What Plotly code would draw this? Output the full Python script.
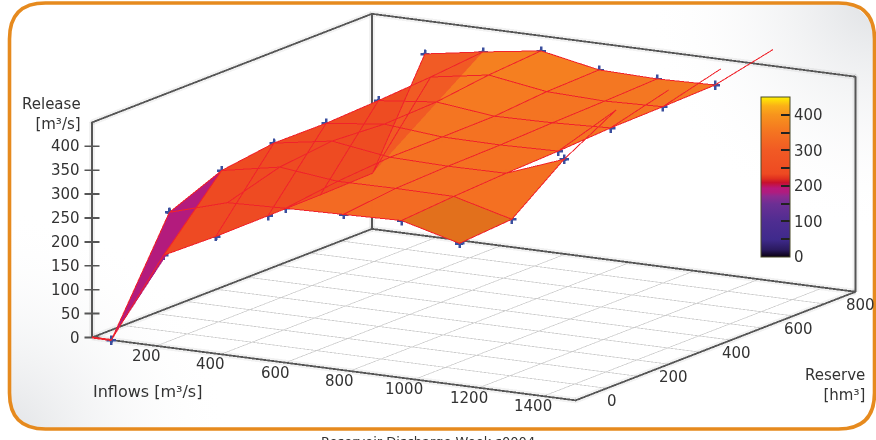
import base64
import plotly.graph_objects as go

# ---- data ----
inflows = [60, 240, 420, 600, 780, 960, 1140]
reserve = [0, 168, 336, 504, 672, 840, 1008]
# release[j][i]: j = reserve index, i = inflow index
release = [
    [0, 283, 319, 323, 326, 329, 297],
    [135, 328, 351, 337, 338, 337, 305],
    [132, 343, 363, 345, 342, 343, 388],
    [133, 342, 356, 345, 344, 347, 449],
    [134, 347, 360, 346, 348, 353, 448],
    [137, 354, 374, 355, 351, 355, 450],
    [344, 364, 382, 358, 355, 358, 448],
]
x_ticks = [200, 400, 600, 800, 1000, 1200, 1400]
y_ticks = [0, 200, 400, 600, 800]
y_grid = [100, 200, 300, 400, 500, 600, 700, 800]
z_ticks = [0, 50, 100, 150, 200, 250, 300, 350, 400]
cb_ticks = [0, 50, 100, 150, 200, 250, 300, 350, 400]
cb_labels = ["0", "", "100", "", "200", "", "300", "", "400"]
x_max, y_max, z_max = 1500, 900, 450
x_low, x_high, y_low, y_high, z_low, z_high = -30, 1510, -10, 1020, -5, 455
title_x = "Inflows [m³/s]"
title_y = "Reserve<br>[hm³]"
title_z = "Release<br>[m³/s]"
caption = "Reservoir Discharge Week s0004"

colorscale = [
    [0.0, "#0a0010"], [0.045, "#2a1a5e"], [0.11, "#3f2a8c"], [0.22, "#4e2d91"],
    [0.33, "#6b2f94"], [0.38, "#8e2a90"], [0.405, "#b01c7e"], [0.43, "#b7187c"], [0.465, "#c8102e"],
    [0.49, "#e0301f"], [0.52, "#ee4a22"], [0.667, "#f15a24"], [0.778, "#f47321"],
    [0.889, "#f7941d"], [0.945, "#fbb117"], [1.0, "#fff200"],
]

FONT = "DejaVu Sans"
TXT = "#333333"
FRAME = "#555555"
GRID = "#cccccc"
RED = "#f0222a"
TR = 0.995   # everything in the transparent pass, so trace order is paint order

fig = go.Figure()

# frame path (also used for its soft shadow)
fx = [0, x_max, x_max, 0, 0, None, 0, 0, 0, 0, None, 0, x_max, x_max]
fy = [0, 0, y_max, y_max, 0, None, 0, 0, y_max, y_max, None, y_max, y_max, y_max]
fz = [0, 0, 0, 0, 0, None, 0, z_max, z_max, 0, None, z_max, z_max, 0]
fig.add_trace(go.Scatter3d(x=fx, y=fy, z=fz, mode="lines", opacity=0.05,
                           line=dict(color="#000000", width=12), hoverinfo="skip", showlegend=False))

# floor grid
gx, gy, gz = [], [], []
for t in x_ticks:
    gx += [t, t, None]; gy += [0, y_max, None]; gz += [0, 0, None]
for t in y_grid:
    gx += [0, x_max, None]; gy += [t, t, None]; gz += [0, 0, None]
fig.add_trace(go.Scatter3d(x=gx, y=gy, z=gz, mode="lines", opacity=TR,
                           line=dict(color=GRID, width=1.5), hoverinfo="skip", showlegend=False))

# frame and the tick marks straddling the release edge
tx, ty, tz = list(fx), list(fy), list(fz)
for t in z_ticks:
    tx += [None, -17, 17]; ty += [None, -6, 6]; tz += [None, t, t]
fig.add_trace(go.Scatter3d(x=tx, y=ty, z=tz, mode="lines", opacity=TR,
                           line=dict(color=FRAME, width=3.6), hoverinfo="skip", showlegend=False))

# markers (behind the sheet, as in the picture)
mx, my, mz = [], [], []
for j, yv in enumerate(reserve):
    for i, xv in enumerate(inflows):
        if i == 6 and j > 2:
            continue
        mx.append(xv); my.append(yv); mz.append(release[j][i])
fig.add_trace(go.Scatter3d(x=mx, y=my, z=mz, mode="text", opacity=TR, text=["✚"] * len(mx),
                           textposition="middle center",
                           textfont=dict(family=FONT, size=13, color="#3a4e9e"),
                           hoverinfo="skip", showlegend=False))

# sheet: painted from high inflow to low inflow, one flat colour per cell
vx, vy, vz = [], [], []
for j, yv in enumerate(reserve):
    for i, xv in enumerate(inflows):
        vx.append(xv); vy.append(yv); vz.append(release[j][i])
n = len(inflows)
ti, tj, tk, tint = [], [], [], []
a, b, c, d = n+5, n+6, 2*n+6, 2*n+5
avg = (vz[a] + vz[b] + vz[c] + vz[d]) / 4
ti += [a, a]; tj += [b, c]; tk += [c, d]; tint += [avg, avg]
for i in range(4, -1, -1):
    for j in range(6):
        a, b, c, d = j*n+i, j*n+i+1, (j+1)*n+i+1, (j+1)*n+i
        avg = (vz[a] + vz[b] + vz[c] + vz[d]) / 4
        ti += [a, a]; tj += [b, c]; tk += [c, d]; tint += [avg, avg]
lighting = dict(ambient=1, diffuse=0, specular=0, fresnel=0, roughness=1)
fig.add_trace(go.Mesh3d(x=vx, y=vy, z=vz, i=ti, j=tj, k=tk, intensity=tint, intensitymode="cell",
                        colorscale=colorscale, cmin=0, cmax=z_max, opacity=TR, flatshading=True,
                        lighting=lighting, hoverinfo="skip",
                        colorbar=dict(
                            thickness=29, thicknessmode="pixels", len=160, lenmode="pixels",
                            x=761/876, xanchor="left", xpad=0, y=(440-177)/440, yanchor="middle", ypad=0,
                            outlinecolor="#4a4a2a", outlinewidth=1, borderwidth=0,
                            tickmode="array", tickvals=cb_ticks, ticktext=cb_labels,
                            ticks="inside", ticklen=9, tickwidth=2, tickcolor="#222222",
                            tickfont=dict(family=FONT, size=15, color=TXT))))
a, b, c, d = 5, 6, n+6, n+5
fig.add_trace(go.Mesh3d(x=vx, y=vy, z=vz, i=[a, a], j=[b, c], k=[c, d], color="#e2701b",
                        opacity=TR, flatshading=True, lighting=lighting, hoverinfo="skip", showscale=False))

# wire lines
lx, ly, lz = [], [], []
for j, yv in enumerate(reserve):
    for i, xv in enumerate(inflows):
        lx.append(xv); ly.append(yv); lz.append(release[j][i])
    lx.append(None); ly.append(None); lz.append(None)
for i, xv in enumerate(inflows):
    last = 3 if i == 6 else 6
    for j in range(last + 1):
        lx.append(xv); ly.append(reserve[j]); lz.append(release[j][i])
    lx.append(None); ly.append(None); lz.append(None)
fig.add_trace(go.Scatter3d(x=lx, y=ly, z=lz, mode="lines", opacity=TR,
                           line=dict(color=RED, width=2), hoverinfo="skip", showlegend=False))
fig.add_trace(go.Scatter3d(x=[0, inflows[0]], y=[0, reserve[0]], z=[0, release[0][0]], mode="lines", opacity=TR,
                           line=dict(color=RED, width=4), hoverinfo="skip", showlegend=False))

axis_common = dict(showgrid=False, zeroline=False, showline=False, showbackground=False,
                   showspikes=False, title=dict(text=""), ticks="", showticklabels=False)

# page: soft grey glow in two corners
svg = ('<svg xmlns="http://www.w3.org/2000/svg" width="876" height="440"><defs>'
       '<radialGradient id="a" gradientUnits="userSpaceOnUse" cx="876" cy="0" r="230">'
       '<stop offset="0" stop-color="#dfe1e4"/><stop offset="1" stop-color="#ffffff" stop-opacity="0"/></radialGradient>'
       '<radialGradient id="b" gradientUnits="userSpaceOnUse" cx="0" cy="440" r="230">'
       '<stop offset="0" stop-color="#dfe1e4"/><stop offset="1" stop-color="#ffffff" stop-opacity="0"/></radialGradient>'
       '<clipPath id="c"><rect x="9" y="3" width="865" height="426" rx="36" ry="36"/></clipPath></defs>'
       '<g clip-path="url(#c)"><rect width="876" height="440" fill="#ffffff"/>'
       '<rect width="876" height="440" fill="url(#a)"/><rect width="876" height="440" fill="url(#b)"/></g></svg>')
uri = "data:image/svg+xml;base64," + base64.b64encode(svg.encode()).decode()

def px(x): return x / 876
def py(y): return 1 - y / 440
L, T, R_, B, r = 9.5, 3, 874.5, 429, 36
border = (f"M {px(L+r)} {py(T)} L {px(R_-r)} {py(T)} Q {px(R_)} {py(T)} {px(R_)} {py(T+r)} "
          f"L {px(R_)} {py(B-r)} Q {px(R_)} {py(B)} {px(R_-r)} {py(B)} "
          f"L {px(L+r)} {py(B)} Q {px(L)} {py(B)} {px(L)} {py(B-r)} "
          f"L {px(L)} {py(T+r)} Q {px(L)} {py(T)} {px(L+r)} {py(T)} Z")

S = 225.0
AR = 2.54
rv = (0.865, 0.501, 0.0)
uv = (-0.1125, 0.194, 0.9745)
sx, sy = -50.8/S, -20.4/S
center = dict(x=sx*rv[0]+sy*uv[0], y=sx*rv[1]+sy*uv[1], z=sx*rv[2]+sy*uv[2])
EYE = 4.0

def note(x, y, text, align, xanchor, yanchor="middle", size=15):
    return dict(xref="paper", yref="paper", x=x/876, y=1-y/440, text=text, showarrow=False,
                align=align, xanchor=xanchor, yanchor=yanchor,
                font=dict(family=FONT, size=size, color=TXT))

def scene_note(x, y, z, text, xanchor, xshift, yshift):
    return dict(x=x, y=y, z=z, text=text, showarrow=False, xanchor=xanchor, yanchor="middle",
                xshift=xshift, yshift=yshift, font=dict(family=FONT, size=15, color=TXT))

tick_notes = ([scene_note(t, 0, 0, str(t), "center", -10, -10) for t in x_ticks]
              + [scene_note(x_max, t, 0, str(t), "center", 36, -1) for t in y_ticks]
              + [scene_note(0, 0, t, str(t), "right", -10, 0) for t in z_ticks])

fig.update_layout(
    width=876, height=440, margin=dict(l=0, r=0, t=0, b=0),
    paper_bgcolor="white", showlegend=False,
    images=[dict(source=uri, xref="paper", yref="paper", x=0, y=1, sizex=1, sizey=1,
                 sizing="stretch", xanchor="left", yanchor="top", layer="below")],
    shapes=[dict(type="path", xref="paper", yref="paper", path=border,
                 line=dict(color="#e68a1e", width=3.6), layer="above")],
    annotations=[
        note(83, 114, title_z, "right", "right"),
        note(91, 391, title_x, "left", "left", size=16),
        note(867, 385, title_y, "right", "right"),
        note(428, 432, caption, "center", "center", "top", size=13),
    ],
    scene=dict(
        domain=dict(x=[0, 1], y=[0, 1]),
        bgcolor="rgba(0,0,0,0)",
        aspectmode="manual",
        aspectratio=dict(x=AR*(x_high-x_low)/x_max, y=AR*(y_high-y_low)/y_max,
                         z=AR*0.395*(z_high-z_low)/z_max),
        camera=dict(projection=dict(type="orthographic"), up=dict(x=0, y=0, z=1),
                    center=center,
                    eye=dict(x=0.488*EYE+center["x"], y=-0.843*EYE+center["y"], z=0.2245*EYE+center["z"])),
        annotations=tick_notes,
        xaxis=dict(range=[x_low, x_high], **axis_common),
        yaxis=dict(range=[y_low, y_high], **axis_common),
        zaxis=dict(range=[z_low, z_high], **axis_common),
    ),
)
fig.write_html("out.html", config=dict(displayModeBar=False),
               post_script="document.body.style.margin='0';")
